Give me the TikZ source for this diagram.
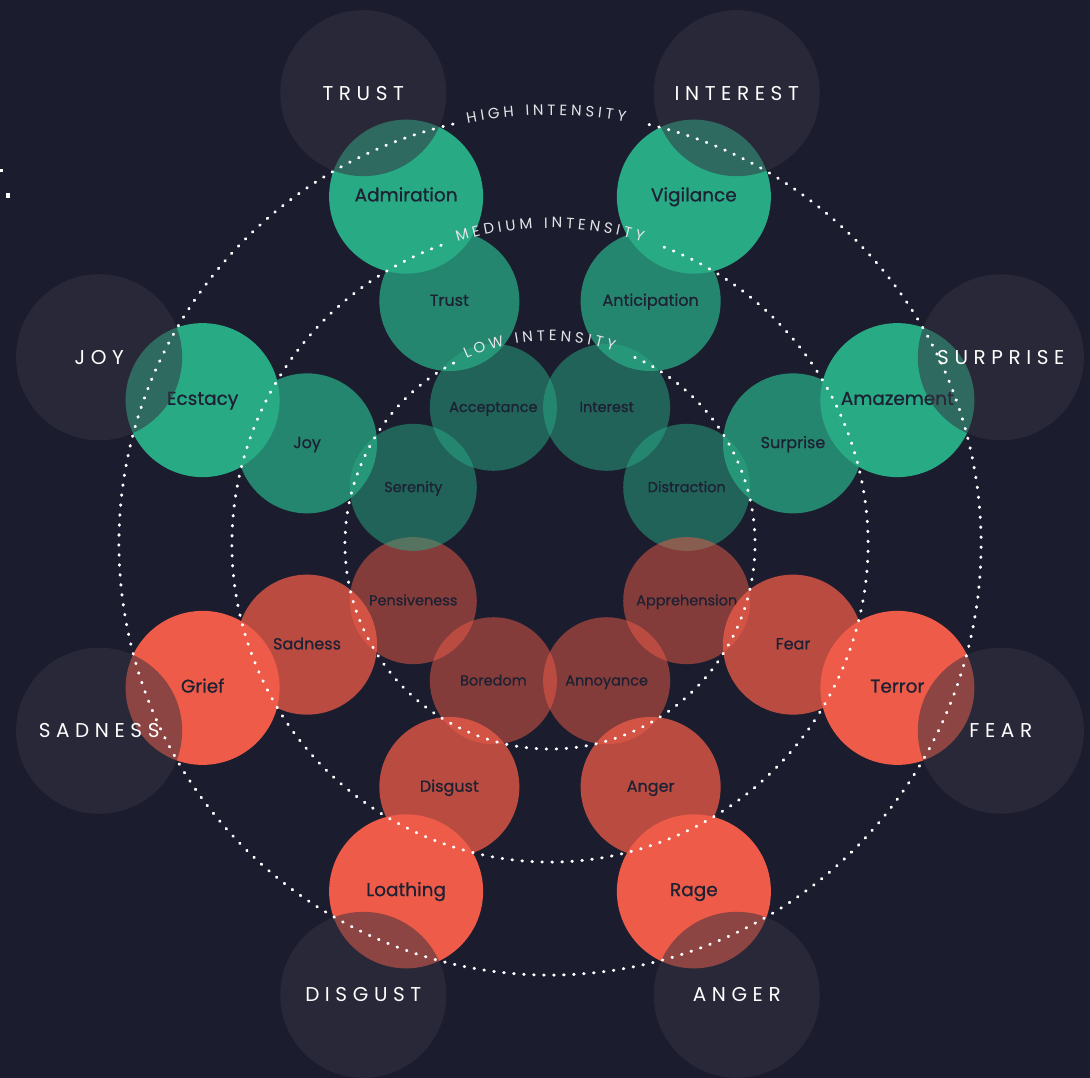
\documentclass[tikz,border=0pt]{standalone}
\usepackage{fontspec}
\setmainfont{Poppins}
\newfontfamily\discfont{Poppins}[FakeBold=0.7]
\newfontfamily\basicfont[LetterSpace=28]{Poppins}
\newfontfamily\ringfont{Poppins}
\usetikzlibrary{decorations.text}

\definecolor{bgnavy}{HTML}{1B1D2E}
\definecolor{wheelgreen}{HTML}{28AA84}
\definecolor{wheelred}{HTML}{EE5B48}
\definecolor{basicgray}{HTML}{373241}
\definecolor{labeldark}{HTML}{1D2133}
\definecolor{ringwhite}{HTML}{E4E4E8}

\tikzset{
  disc/.style={circle, inner sep=0pt, text height=0.95em, text depth=0pt, text=labeldark},
  lowdisc/.style={disc, minimum size=127pt, fill=#1, fill opacity=0.5,
    text opacity=1, font=\discfont\fontsize{14.5}{16}\selectfont},
  middisc/.style={disc, minimum size=140pt, fill=#1, fill opacity=0.75,
    text opacity=1, font=\discfont\fontsize{16}{18}\selectfont},
  highdisc/.style={disc, minimum size=154pt, fill=#1,
    font=\discfont\fontsize{18.5}{20}\selectfont},
  basicdisc/.style={circle, inner sep=0pt, minimum size=166pt, fill=basicgray, fill opacity=0.53,
    text opacity=1, text=white, font=\basicfont\fontsize{20}{22}\selectfont},
  dotring/.style={draw=white, line width=3pt, dash pattern=on 0.6pt off 9.4pt, line cap=round},
  ringlabel/.style={decorate, decoration={text effects along path, text={#1}, text align=center, raise=-2pt,
    text effects/.cd, text along path,
    character widths={inner xsep=1.9pt, inner ysep=0pt, font=\ringfont\fontsize{15}{17}\selectfont},
    characters={inner sep=0pt, anchor=base, text=ringwhite, font=\ringfont\fontsize{15}{17}\selectfont}}}
}

\begin{document}
\begin{tikzpicture}[x=1pt,y=1pt]
\fill[bgnavy] (0,0) rectangle (1090,-1078);
\useasboundingbox (0,0) rectangle (1090,-1078);
\coordinate (hub) at (550,-544);

% Low intensity
\foreach \ang/\name/\txt/\col in {112.5/acceptance/Acceptance/wheelgreen, 67.5/interest/Interest/wheelgreen,
    22.5/distraction/Distraction/wheelgreen, -22.5/apprehension/Apprehension/wheelred,
    -67.5/annoyance/Annoyance/wheelred, -112.5/boredom/Boredom/wheelred,
    -157.5/pensiveness/Pensiveness/wheelred, 157.5/serenity/Serenity/wheelgreen}
  \node[lowdisc=\col] (\name) at ([shift={(\ang:148)}]hub) {\txt};

% Medium intensity
\foreach \ang/\name/\txt/\col in {112.5/trust/Trust/wheelgreen, 67.5/anticipation/Anticipation/wheelgreen,
    22.5/surprise/Surprise/wheelgreen, -22.5/fear/Fear/wheelred,
    -67.5/anger/Anger/wheelred, -112.5/disgust/Disgust/wheelred,
    -157.5/sadness/Sadness/wheelred, 157.5/joy/Joy/wheelgreen}
  \node[middisc=\col] (\name) at ([shift={(\ang:263)}]hub) {\txt};

% High intensity
\foreach \ang/\name/\txt/\col in {112.5/admiration/Admiration/wheelgreen, 67.5/vigilance/Vigilance/wheelgreen,
    22.5/amazement/Amazement/wheelgreen, -22.5/terror/Terror/wheelred,
    -67.5/rage/Rage/wheelred, -112.5/loathing/Loathing/wheelred,
    -157.5/grief/Grief/wheelred, 157.5/ecstacy/Ecstacy/wheelgreen}
  \node[highdisc=\col] (\name) at ([shift={(\ang:376)}]hub) {\txt};

% Basic emotions
\foreach \ang/\name/\txt in {112.5/basictrust/TRUST, 67.5/basicinterest/INTEREST,
    22.5/basicsurprise/SURPRISE, -22.5/basicfear/FEAR, -67.5/basicanger/ANGER,
    -112.5/basicdisgust/DISGUST, -157.5/basicsadness/SADNESS, 157.5/basicjoy/JOY}
  \node[basicdisc] (\name) at ([shift={(\ang:488)}]hub) {\txt};

% Dotted rings, open at the top for the labels
\draw[dotring] ([shift={(103:431)}]hub) arc[start angle=103, end angle=437, radius=431];
\draw[dotring] ([shift={(110:318)}]hub) arc[start angle=110, end angle=430, radius=318];
\draw[dotring] ([shift={(118:205)}]hub) arc[start angle=118, end angle=428, radius=205];
\path[ringlabel={HIGH INTENSITY}] ([shift={(110.5:431)}]hub) arc[start angle=110.5, end angle=70.5, radius=431];
\path[ringlabel={MEDIUM INTENSITY}] ([shift={(120:318)}]hub) arc[start angle=120, end angle=60, radius=318];
\path[ringlabel={LOW INTENSITY}] ([shift={(140:205)}]hub) arc[start angle=140, end angle=46, radius=205];

% cut-off marks at the left edge
\fill[white] (0,-169) rectangle (3,-172);
\fill[white] (6,-193) rectangle (10,-198);
\end{tikzpicture}
\end{document}
